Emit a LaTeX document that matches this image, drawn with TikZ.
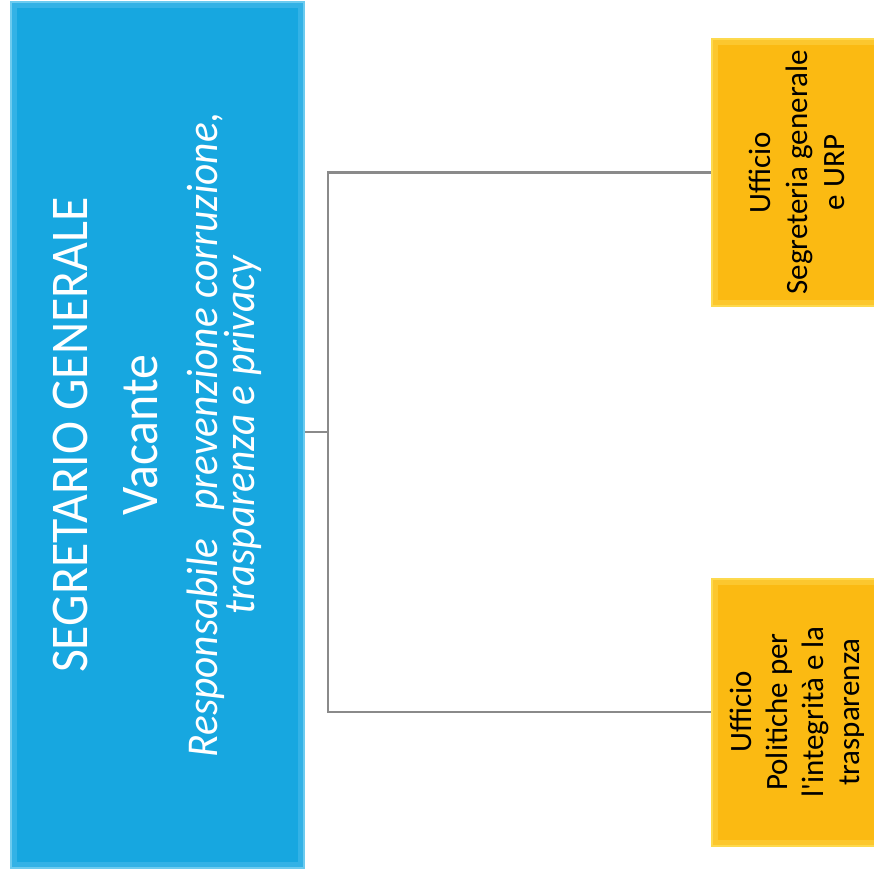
\documentclass[tikz,border=0pt]{standalone}
\usepackage{fontspec}
\setmainfont{Carlito}
\newfontfamily\narrowfont[FakeStretch=0.94]{Carlito}
\usetikzlibrary{positioning}
\definecolor{segblue}{HTML}{17A7E0}
\definecolor{segedge}{HTML}{6CCBEF}
\definecolor{segbevel}{HTML}{33B2E6}
\definecolor{uffyellow}{HTML}{FBBA12}
\definecolor{uffedge}{HTML}{FDD94E}
\definecolor{uffbevel}{HTML}{FCC72E}
\definecolor{linkgray}{HTML}{8A8A8A}
\tikzset{
	bevel/.style={path picture={\draw[#1, line width=12pt] (path picture bounding box.south west) rectangle (path picture bounding box.north east);}},
	headbox/.style={draw=segedge, line width=2pt, fill=segblue, bevel=segbevel, minimum width=293, minimum height=866, inner sep=0},
	uffbox/.style={draw=uffedge, line width=2pt, fill=uffyellow, bevel=uffbevel, minimum width=168, minimum height=267, inner sep=0},
	headtext/.style={rotate=90, anchor=base, text=white, inner sep=0},
	ufftext/.style={rotate=90, align=center, text=black, inner sep=0, font=\fontsize{31}{37}\selectfont},
	link/.style={draw=linkgray, line width=2.4pt}
}

\begin{document}
\begin{tikzpicture}[x=1pt, y=-1pt]
	\useasboundingbox (0,0) rectangle (874,878);
	% segretario
	\node[headbox] (seg) at (157.5,435) {};
	\node[headtext, font=\narrowfont\fontsize{53}{60}\selectfont] (segtitle) at (87,435) {SEGRETARIO GENERALE};
	\node[headtext, font=\narrowfont\fontsize{53}{60}\selectfont] (segname) at (157,435) {Vacante};
	\node[headtext, font=\narrowfont\itshape\fontsize{44}{50}\selectfont] (segrole) at (217,435) {Responsabile~~~prevenzione corruzione,};
	\node[headtext, font=\narrowfont\itshape\fontsize{44}{50}\selectfont] (segrolebis) at (254,435) {trasparenza e privacy};

	% uffici
	\node[uffbox] (uff1) at (796,172.5) {};
	\node[ufftext] (uff1text) at (797,172.5) {Ufficio\\Segreteria generale\\e URP};
	\node[uffbox] (uff2) at (796,712) {};
	\node[ufftext, font=\fontsize{31}{36}\selectfont] (uff2text) at (797,712) {Ufficio\\Politiche per\\l\textquotesingle integrità e la\\trasparenza};

	% collegamenti
	\coordinate (hub) at (328,432);
	\draw[link] (hub) -- (hub -| seg.east);
	\draw[link] (uff1.west) -| (hub) |- (uff2.west);
\end{tikzpicture}
\end{document}
